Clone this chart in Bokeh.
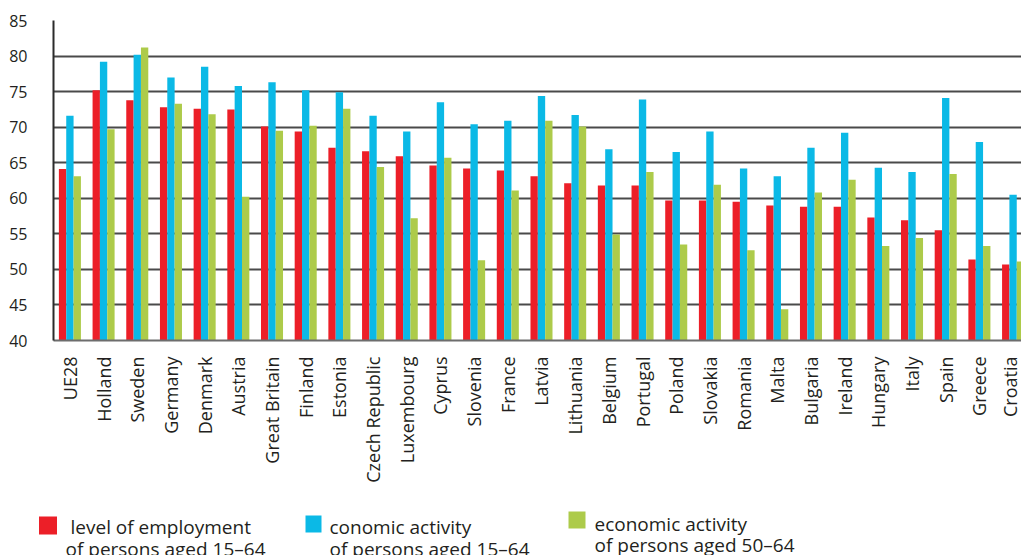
import math
from bokeh.plotting import figure
from bokeh.layouts import column
from bokeh.models import ColumnDataSource, FixedTicker, Range1d
from bokeh.core.properties import value
from bokeh.transform import dodge
from bokeh.embed import file_html
from bokeh.resources import INLINE

# Countries (EU28 average first)
countries = ["UE28", "Holland", "Sweden", "Germany", "Denmark", "Austria",
             "Great Britain", "Finland", "Estonia", "Czech Republic", "Luxembourg",
             "Cyprus", "Slovenia", "France", "Latvia", "Lithuania", "Belgium",
             "Portugal", "Poland", "Slovakia", "Romania", "Malta", "Bulgaria",
             "Ireland", "Hungary", "Italy", "Spain", "Greece", "Croatia"]

# Level of employment, persons aged 15-64 (%)
employment_15_64 = [64.1, 75.2, 73.8, 72.8, 72.6, 72.5, 70.1, 69.4, 67.1, 66.6,
                    65.9, 64.6, 64.2, 63.9, 63.1, 62.1, 61.8, 61.8, 59.7, 59.7,
                    59.5, 59.0, 58.8, 58.8, 57.3, 56.9, 55.5, 51.4, 50.7]

# Economic activity, persons aged 15-64 (%)
activity_15_64 = [71.6, 79.2, 80.2, 77.0, 78.5, 75.8, 76.3, 75.2, 74.9, 71.6,
                  69.4, 73.5, 70.4, 70.9, 74.4, 71.7, 66.9, 73.9, 66.5, 69.4,
                  64.2, 63.1, 67.1, 69.2, 64.3, 63.7, 74.1, 67.9, 60.5]

# Economic activity, persons aged 50-64 (%)
activity_50_64 = [63.1, 69.7, 81.2, 73.3, 71.8, 60.2, 69.5, 70.2, 72.6, 64.4,
                  57.2, 65.7, 51.3, 61.1, 70.9, 70.1, 54.9, 63.7, 53.5, 61.9,
                  52.7, 44.4, 60.8, 62.6, 53.3, 54.4, 63.4, 53.3, 51.1]

y_ticks = [40, 45, 50, 55, 60, 65, 70, 75, 80, 85]

legend_lines = [
    ("level of employment", "of persons aged  15\u201364"),
    ("conomic activity", "of persons aged  15\u201364"),
    ("economic activity", "of persons aged 50\u201364"),
]

RED = "#ec1f28"
BLUE = "#0bb9e6"
GREEN = "#adcb4a"
TEXT = "#231f20"
FONT = "Open Sans"

idx = list(range(len(countries)))
bar_w = 0.218

src = ColumnDataSource(dict(
    x=idx,
    emp=employment_15_64,
    act=activity_15_64,
    act50=activity_50_64,
))

p = figure(width=1021, height=495, output_backend="svg", toolbar_location=None,
           x_range=Range1d(-0.487, 28.25), y_range=Range1d(40, 85),
           min_border_left=53, min_border_right=0, min_border_top=20,
           min_border_bottom=155)
p.outline_line_color = None
p.background_fill_color = "white"
p.border_fill_color = "white"

p.vbar(x=dodge("x", -bar_w, range=p.x_range), top="emp", bottom=40, width=bar_w,
       source=src, fill_color=RED, line_color=None)
p.vbar(x=dodge("x", 0.0, range=p.x_range), top="act", bottom=40, width=bar_w,
       source=src, fill_color=BLUE, line_color=None)
p.vbar(x=dodge("x", bar_w, range=p.x_range), top="act50", bottom=40, width=bar_w,
       source=src, fill_color=GREEN, line_color=None)

# y axis
p.yaxis.ticker = FixedTicker(ticks=y_ticks)
p.yaxis.axis_line_color = "#2b2b2b"
p.yaxis.axis_line_width = 2
p.yaxis.major_tick_line_color = None
p.yaxis.minor_tick_line_color = None
p.yaxis.major_label_standoff = 20
p.yaxis.major_label_text_font = FONT
p.yaxis.major_label_text_font_size = "16px"
p.yaxis.major_label_text_color = TEXT

# x axis with country names
p.xaxis.ticker = FixedTicker(ticks=idx)
p.xaxis.major_label_overrides = {i: c for i, c in enumerate(countries)}
p.xaxis.major_label_orientation = math.pi / 2
p.xaxis.axis_line_color = "#6d6d6d"
p.xaxis.axis_line_width = 2
p.xaxis.major_tick_line_color = None
p.xaxis.minor_tick_line_color = None
p.xaxis.major_label_standoff = 10
p.xaxis.major_label_text_font = FONT
p.xaxis.major_label_text_font_size = "18px"
p.xaxis.major_label_text_color = TEXT

p.xgrid.grid_line_color = None
p.ygrid.ticker = FixedTicker(ticks=y_ticks)
p.ygrid.grid_line_color = "#4a4a4a"
p.ygrid.grid_line_width = 2

# legend strip below the chart; its data units are page pixels
lg = figure(width=1021, height=60, output_backend="svg", toolbar_location=None,
            x_range=Range1d(0, 1021), y_range=Range1d(0, 60),
            x_axis_location=None, y_axis_location=None,
            min_border_left=0, min_border_right=0,
            min_border_top=0, min_border_bottom=0)
lg.grid.visible = False
lg.outline_line_color = None

# keep the legend strip's frame independent of the chart's frame
for fig in (p, lg):
    if "frame_align" in fig.properties():
        fig.frame_align = False

sw_x = [47.5, 313, 576.5]
sw_y = [30, 31.5, 35.5]
lg.rect(x=sw_x, y=sw_y, width=[18, 16, 17], height=[18, 17, 17],
        fill_color=[RED, BLUE, GREEN], line_color=None)

txt_x1 = [70, 329, 594]
txt_x2 = [65, 329, 594]
base1 = [29, 29, 32]
base2 = [7, 7, 11]
lg.text(x=txt_x1, y=base1, text=[a for a, b in legend_lines],
        text_font=value(FONT), text_font_size="19px", text_color=TEXT,
        text_baseline="alphabetic")
lg.text(x=txt_x2, y=base2, text=[b for a, b in legend_lines],
        text_font=value(FONT), text_font_size="19px", text_color=TEXT,
        text_baseline="alphabetic")

layout = column(p, lg, spacing=0)
open("out.html", "w").write(file_html(layout, INLINE))
